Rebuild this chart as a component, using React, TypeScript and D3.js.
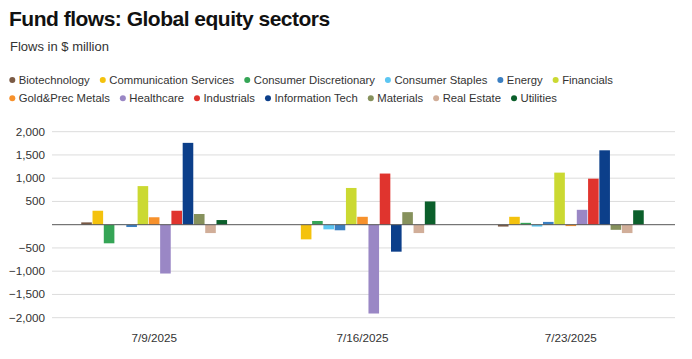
import React, { useEffect, useRef } from "react";
import * as d3 from "d3";

const dates = ["7/9/2025", "7/16/2025", "7/23/2025"];
const sectors = [
  "Biotechnology",
  "Communication Services",
  "Consumer Discretionary",
  "Consumer Staples",
  "Energy",
  "Financials",
  "Gold&Prec Metals",
  "Healthcare",
  "Industrials",
  "Information Tech",
  "Materials",
  "Real Estate",
  "Utilities",
];
const colors = [
  "#7a5a45",
  "#f4c20d",
  "#35a556",
  "#5cc6f2",
  "#3b7fc2",
  "#cbd932",
  "#f7912c",
  "#9a87c5",
  "#e0342e",
  "#0c3f8a",
  "#86915c",
  "#d1ae99",
  "#0b5f2b",
];
// values per sector, in order of dates
const biotech = [50, 0, -40];
const commServices = [300, -315, 170];
const consDisc = [-400, 80, 40];
const consStaples = [10, -100, -40];
const energy = [-50, -120, 60];
const financials = [830, 790, 1120];
const gold = [160, 170, -30];
const healthcare = [-1050, -1910, 320];
const industrials = [300, 1100, 990];
const infoTech = [1760, -580, 1600];
const materials = [230, 270, -110];
const realEstate = [-180, -180, -180];
const utilities = [100, 500, 310];
const seriesValues = [
  biotech, commServices, consDisc, consStaples, energy, financials, gold,
  healthcare, industrials, infoTech, materials, realEstate, utilities,
];
const yTicks = [-2000, -1500, -1000, -500, 500, 1000, 1500, 2000];
const legendRows = [6, 7];

const W = 692;
const H = 359;
const FONT = "'Liberation Sans', Arial, Helvetica, sans-serif";

export default function App() {
  const ref = useRef<SVGSVGElement>(null);

  useEffect(() => {
    document.body.style.margin = "0";
    const svg = d3.select(ref.current);
    svg.selectAll("*").remove();

    svg.append("text")
      .attr("x", 9).attr("y", 26)
      .attr("font-family", FONT).attr("font-size", 21).attr("font-weight", "bold")
      .attr("fill", "#111").attr("letter-spacing", -0.5)
      .text("Fund flows: Global equity sectors");
    svg.append("text")
      .attr("x", 10).attr("y", 51)
      .attr("font-family", FONT).attr("font-size", 13)
      .attr("fill", "#333")
      .text("Flows in $ million");

    // legend
    const lg = svg.append("g");
    let idx = 0;
    legendRows.forEach((count, r) => {
      let x = 12.3;
      const cy = 80 + r * 18.3;
      for (let k = 0; k < count; k++, idx++) {
        lg.append("circle").attr("cx", x).attr("cy", cy).attr("r", 3).attr("fill", colors[idx]);
        const t = lg.append("text")
          .attr("x", x + 6.5).attr("y", cy + 4)
          .attr("font-family", FONT).attr("font-size", 11.3).attr("fill", "#333")
          .text(sectors[idx]);
        const w = (t.node() as SVGTextElement).getComputedTextLength();
        x = x + 6.5 + w + 13;
      }
    });

    const x0 = d3.scaleBand<string>().domain(dates).range([50, 675]).paddingInner(0.3).paddingOuter(0.15);
    const x1 = d3.scaleBand<string>().domain(sectors).range([0, x0.bandwidth()]).paddingInner(0.06);
    const y = d3.scaleLinear().domain([-2000, 2000]).range([317.7, 131.7]);

    const grid = svg.append("g");
    yTicks.forEach((t) => {
      grid.append("line")
        .attr("x1", 52).attr("x2", 675)
        .attr("y1", y(t)).attr("y2", y(t))
        .attr("stroke", "#dcdcdc").attr("stroke-width", 1);
    });
    const fmt = d3.format(",");
    svg.append("g").selectAll("text").data(yTicks).join("text")
      .attr("x", 45).attr("y", (d) => y(d) + 4)
      .attr("text-anchor", "end")
      .attr("font-family", FONT).attr("font-size", 11.7).attr("fill", "#333")
      .text((d) => fmt(d).replace("-", "\u2212"));

    const bars = svg.append("g");
    dates.forEach((dt, di) => {
      sectors.forEach((s, si) => {
        const v = seriesValues[si][di];
        if (v === 0) return;
        bars.append("rect")
          .attr("x", (x0(dt) as number) + (x1(s) as number))
          .attr("width", x1.bandwidth())
          .attr("y", y(Math.max(0, v)))
          .attr("height", Math.abs(y(v) - y(0)))
          .attr("fill", colors[si]);
      });
    });

    svg.append("line")
      .attr("x1", 52).attr("x2", 675)
      .attr("y1", y(0)).attr("y2", y(0))
      .attr("stroke", "#555").attr("stroke-width", 1);

    svg.append("g").selectAll("text").data(dates).join("text")
      .attr("x", (d) => (x0(d) as number) + x0.bandwidth() / 2)
      .attr("y", 342)
      .attr("text-anchor", "middle")
      .attr("font-family", FONT).attr("font-size", 11.7).attr("fill", "#333")
      .text((d) => d);
  }, []);

  return <svg ref={ref} width={W} height={H} style={{ display: "block", background: "#fff" }} />;
}
